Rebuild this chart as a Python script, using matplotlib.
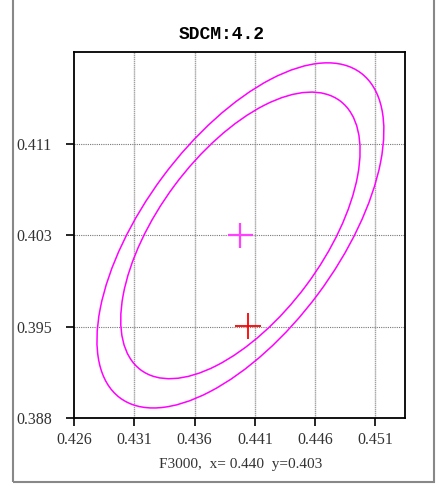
import matplotlib
matplotlib.use("Agg")
import matplotlib.pyplot as plt
from matplotlib.patches import Ellipse, Rectangle

# chart values
title = "SDCM:4.2"
x_ticks = [0.426, 0.431, 0.436, 0.441, 0.446, 0.451]
x_labels = ["0.426", "0.431", "0.436", "0.441", "0.446", "0.451"]
y_ticks = [0.388, 0.3955, 0.403, 0.4105]
y_labels = ["0.388", "0.395", "0.403", "0.411"]
x_lim = [0.426, 0.45345]
y_lim = [0.388, 0.41807]

center = (0.4398, 0.4030)
# (width, height, angle) of each ellipse
ellipse_outer = (0.03334, 0.01608, 53.1)
ellipse_inner = (0.02760, 0.01366, 53.1)
target_point = (0.44043, 0.39556)
caption = "F3000,  x= 0.440  y=0.403"

fig = plt.figure(figsize=(4.37, 4.84), dpi=100)
ax = fig.add_axes([0.1693, 0.1364, 0.7575, 0.7562])

for w, h, ang in [ellipse_outer, ellipse_inner]:
    ax.add_patch(Ellipse(center, w, h, angle=ang, fill=False,
                         edgecolor="#ff00ff", linewidth=1.1))

ax.plot(center[0], center[1], marker="+", markersize=18, color="#ff40ff",
        markeredgewidth=1.6, linestyle="none")
ax.plot(target_point[0], target_point[1], marker="+", markersize=19,
        color="red", markeredgewidth=1.3, linestyle="none")

ax.set_xlim(x_lim)
ax.set_ylim(y_lim)
ax.set_xticks(x_ticks)
ax.set_xticklabels(x_labels)
ax.set_yticks(y_ticks)
ax.set_yticklabels(y_labels)

for xt in x_ticks[1:]:
    ax.axvline(xt, color="#a0a0a0", linewidth=1.0, linestyle=(0, (1, 0.5)), zorder=0)
for yt in y_ticks[1:]:
    ax.axhline(yt, color="#777777", linewidth=0.8, linestyle=(0, (1, 1)), zorder=0)

ax.tick_params(direction="out", length=6, width=1.2, color="black",
               labelsize=11.5, pad=4)
for lab in ax.get_xticklabels() + ax.get_yticklabels():
    lab.set_fontfamily("Liberation Serif")
    lab.set_color("#333333")
ax.tick_params(axis="y", pad=10)
for sp in ax.spines.values():
    sp.set_linewidth(1.3)
    sp.set_color("black")

fig.text(0.508, 0.928, title, ha="center", va="center", fontsize=13,
         fontweight="bold", family="Liberation Mono")
fig.text(0.55, 0.041, caption, ha="center", va="center", fontsize=11,
         family="Liberation Serif", color="#333333")

fig.patches.append(Rectangle((0.0297, 0.004), 0.963, 1.0, transform=fig.transFigure,
                             fill=False, edgecolor="#888888", linewidth=1.5))

fig.savefig("out.png", dpi=100)
